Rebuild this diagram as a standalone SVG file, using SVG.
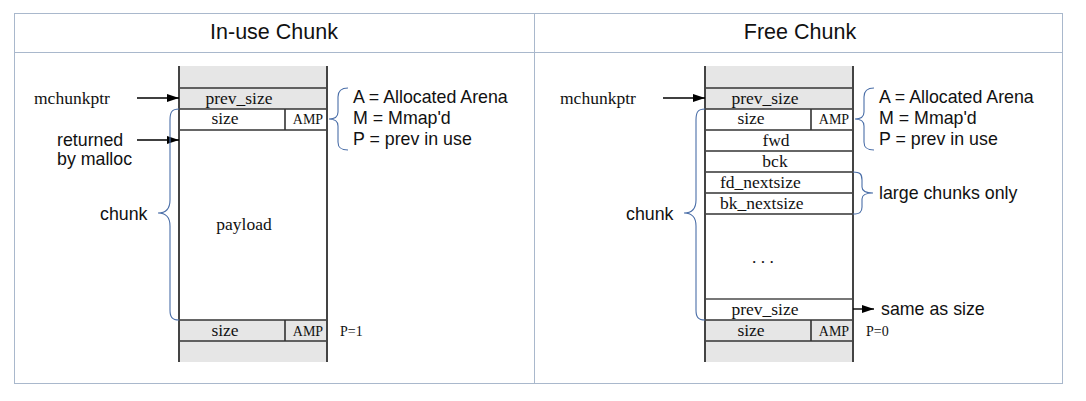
<svg xmlns="http://www.w3.org/2000/svg" width="1086" height="401" viewBox="0 0 1086 401">
<style>
.title{font-family:"Liberation Sans",Arial,sans-serif;font-size:21.5px;fill:#111;text-anchor:middle}
.sans{font-family:"Liberation Sans",Arial,sans-serif;font-size:17.8px;fill:#111}
.serif{font-family:"Liberation Serif","Times New Roman",serif;font-size:17.5px;fill:#111;text-anchor:middle}
.serifL{font-family:"Liberation Serif","Times New Roman",serif;font-size:17.5px;fill:#111;text-anchor:start}
.small{font-family:"Liberation Serif","Times New Roman",serif;font-size:14px;fill:#111}
.gray{fill:#e6e6e6;stroke:none}
.sep{stroke:#333;stroke-width:1.6;fill:none}
.side{stroke:#444;stroke-width:2;fill:none}
.brace{stroke:#4a6ea8;stroke-width:1.1;fill:none}
.arrow{stroke:#000;stroke-width:1.4;fill:none;marker-end:url(#ah)}
.frame{stroke:#a9b8cc;stroke-width:1;fill:none}
</style>
<defs>
<marker id="ah" markerUnits="userSpaceOnUse" markerWidth="12" markerHeight="8" refX="12" refY="4" orient="auto">
<path d="M0,0 L12,4 L0,8 z" fill="#000"/>
</marker>
</defs>
<rect width="1086" height="401" fill="#fff"/>
<g id="frame">
<rect class="frame" x="14.5" y="13.5" width="1048" height="370"/>
<line class="frame" x1="14.5" y1="52.5" x2="1062.5" y2="52.5"/>
<line class="frame" x1="534.5" y1="13.5" x2="534.5" y2="383.5"/>
<text class="title" x="274" y="39">In-use Chunk</text>
<text class="title" x="800" y="39">Free Chunk</text>
</g>
<g id="inuse-chunk">
<rect class="gray" x="179" y="66" width="148" height="43"/>
<rect class="gray" x="179" y="320" width="148" height="42"/>
<line class="sep" x1="179" y1="88" x2="327" y2="88"/>
<line class="sep" x1="179" y1="109" x2="327" y2="109"/>
<line class="sep" x1="179" y1="130" x2="327" y2="130"/>
<line class="sep" x1="285" y1="109" x2="285" y2="130"/>
<line class="sep" x1="179" y1="320" x2="327" y2="320"/>
<line class="sep" x1="179" y1="341" x2="327" y2="341"/>
<line class="sep" x1="285" y1="320" x2="285" y2="341"/>
<line class="side" x1="179" y1="66" x2="179" y2="362"/>
<line class="side" x1="327" y1="66" x2="327" y2="362"/>
<text class="serif" x="239" y="104">prev_size</text>
<text class="serif" x="225" y="124">size</text>
<text class="small" x="308" y="124" text-anchor="middle">AMP</text>
<text class="serif" x="244" y="230">payload</text>
<text class="serif" x="225" y="336">size</text>
<text class="small" x="308" y="336" text-anchor="middle">AMP</text>
<text class="small" x="340" y="336">P=1</text>
</g>
<g id="inuse-labels">
<text class="serifL" x="34" y="104">mchunkptr</text>
<text class="sans" x="57" y="146">returned</text>
<text class="sans" x="57" y="165">by malloc</text>
<text class="sans" x="100" y="220">chunk</text>
<text class="sans" x="353" y="103">A = Allocated Arena</text>
<text class="sans" x="353" y="124">M = Mmap'd</text>
<text class="sans" x="353" y="145">P = prev in use</text>
</g>
<g id="free-chunk">
<rect class="gray" x="705" y="66" width="148" height="43"/>
<rect class="gray" x="705" y="320" width="148" height="42"/>
<line class="sep" x1="705" y1="88" x2="853" y2="88"/>
<line class="sep" x1="705" y1="109" x2="853" y2="109"/>
<line class="sep" x1="705" y1="130" x2="853" y2="130"/>
<line class="sep" x1="811" y1="109" x2="811" y2="130"/>
<line class="sep" x1="705" y1="151" x2="853" y2="151"/>
<line class="sep" x1="705" y1="172" x2="853" y2="172"/>
<line class="sep" x1="705" y1="193" x2="853" y2="193"/>
<line class="sep" x1="705" y1="214" x2="853" y2="214"/>
<line x1="705" y1="299" x2="853" y2="299" stroke="#777" stroke-width="2"/>
<line class="sep" x1="705" y1="320" x2="853" y2="320"/>
<line class="sep" x1="705" y1="341" x2="853" y2="341"/>
<line class="sep" x1="811" y1="320" x2="811" y2="341"/>
<line class="side" x1="705" y1="66" x2="705" y2="362"/>
<line class="side" x1="853" y1="66" x2="853" y2="362"/>
<text class="serif" x="765" y="104">prev_size</text>
<text class="serif" x="751" y="124">size</text>
<text class="small" x="834" y="124" text-anchor="middle">AMP</text>
<text class="serif" x="776" y="146">fwd</text>
<text class="serif" x="775" y="167">bck</text>
<text class="serifL" x="720" y="188">fd_nextsize</text>
<text class="serifL" x="720" y="209">bk_nextsize</text>
<text class="serif" x="763" y="263">. . .</text>
<text class="serif" x="765" y="315">prev_size</text>
<text class="serif" x="751" y="336">size</text>
<text class="small" x="834" y="336" text-anchor="middle">AMP</text>
<text class="small" x="866" y="336">P=0</text>
</g>
<g id="free-labels">
<text class="serifL" x="560" y="104">mchunkptr</text>
<text class="sans" x="626" y="220">chunk</text>
<text class="sans" x="879" y="103">A = Allocated Arena</text>
<text class="sans" x="879" y="124">M = Mmap'd</text>
<text class="sans" x="879" y="145">P = prev in use</text>
<text class="sans" x="879" y="199">large chunks only</text>
<text class="sans" x="881" y="315">same as size</text>
</g>
<g id="connectors">
<line class="arrow" x1="137" y1="98" x2="179" y2="98"/>
<line class="arrow" x1="137" y1="140" x2="179" y2="140"/>
<line class="arrow" x1="663" y1="98" x2="705" y2="98"/>
<line class="arrow" x1="853" y1="309" x2="874" y2="309"/>
<path class="brace" d="M179,109 C172,109 170,112 170,120 L170,200 C170,209 166,213 158,213 C166,213 170,217 170,226 L170,310 C170,317 172,320 179,320"/>
<path class="brace" d="M705,109 C698,109 696,112 696,120 L696,200 C696,209 692,213 684,213 C692,213 696,217 696,226 L696,310 C696,317 698,320 705,320"/>
<path class="brace" d="M348,88 C341,88 338,91 338,97 L338,112 C338,116 335,119 329,119 C335,119 338,122 338,126 L338,142 C338,148 341,150 348,150"/>
<path class="brace" d="M874,88 C867,88 864,91 864,97 L864,112 C864,116 861,119 855,119 C861,119 864,122 864,126 L864,142 C864,148 867,150 874,150"/>
<path class="brace" d="M853,172 C860,172 862,174 862,180 L862,187 C862,191 865,193 873,193 C865,193 862,195 862,199 L862,207 C862,212 860,214 853,214"/>
</g>
</svg>
